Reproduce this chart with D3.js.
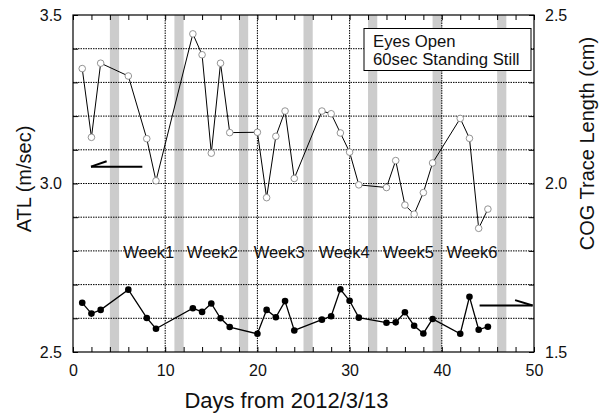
<!DOCTYPE html>
<html><head><meta charset="utf-8">
<script src="https://cdn.jsdelivr.net/npm/d3@7"></script>
<style>body{margin:0;background:#fff}svg{font-family:"Liberation Sans",Arial,sans-serif}</style>
</head><body><svg id="c" width="604" height="414"></svg>
<script>
const days = [1,2,3,6,8,9,13,14,15,16,17,20,21,22,23,24,27,28,29,30,31,34,35,36,37,38,39,42,43,44,45];
const atl = [3.341,3.137,3.357,3.319,3.133,3.008,3.444,3.382,3.090,3.357,3.151,3.152,2.958,3.140,3.215,3.015,3.215,3.207,3.150,3.093,2.996,2.988,3.068,2.936,2.909,2.973,3.061,3.193,3.134,2.867,2.924];
const cog = [1.646,1.614,1.625,1.685,1.601,1.569,1.630,1.619,1.644,1.600,1.574,1.554,1.625,1.603,1.651,1.564,1.596,1.606,1.686,1.652,1.602,1.587,1.588,1.618,1.578,1.555,1.598,1.554,1.664,1.566,1.575];
const shadedDays = [4,11,18,25,32,39,46];
const weekLabels = ["Week1","Week2","Week3","Week4","Week5","Week6"];
const weekStart = [5.45,12.35,19.6,26.65,33.6,40.5];
const xTicks = [0,10,20,30,40,50];
const leftTicks = [2.5,3.0,3.5];
const rightTicks = [1.5,2.0,2.5];
const legendLines = ["Eyes Open","60sec Standing Still"];
const xTitle = "Days from 2012/3/13", yTitle = "ATL (m/sec)", y2Title = "COG Trace Length (cm)";
// arrows in data units: [x1,y1,x2,y2] shaft, [tipX,tipY,hx,hy] barb
const leftArrow = {shaft:[1.95,3.05,7.52,3.05], barb:[1.95,3.05,3.65,3.066]};
const rightArrow = {shaft:[44.1,1.638,49.85,1.638], barb:[49.85,1.638,47.95,1.654]};

const m = {l:73,t:15,r:70,b:62}, W=604-m.l-m.r, H=414-m.t-m.b;
const svg = d3.select("#c");
const g = svg.append("g").attr("transform",`translate(${m.l},${m.t})`);
const x = d3.scaleLinear().domain([0,50]).range([0,W]);
const y = d3.scaleLinear().domain([2.5,3.5]).range([H,0]);
const y2 = d3.scaleLinear().domain([1.5,2.5]).range([H,0]);

// shaded bars
g.selectAll("rect.sh").data(shadedDays).enter().append("rect")
 .attr("x",d=>x(d)).attr("width",d=>x(d+1)-x(d)).attr("y",0).attr("height",H).attr("fill","#cccccc");

// grid
const gy = d3.range(1,10).map(i=>2.5+i*0.1);
g.selectAll("line.gy").data(gy).enter().append("line")
 .attr("x1",0).attr("x2",W).attr("y1",d=>y(d)).attr("y2",d=>y(d))
 .attr("stroke","#000").attr("stroke-width",1).attr("stroke-dasharray","1.5,1");
g.selectAll("line.gx").data([10,20,30,40]).enter().append("line")
 .attr("y1",0).attr("y2",H).attr("x1",d=>x(d)).attr("x2",d=>x(d))
 .attr("stroke","#000").attr("stroke-width",1).attr("stroke-dasharray","1.5,1");

// axes (inward ticks)
const fs = "16px";
const xb = d3.axisBottom(x).tickValues(d3.range(0,51,2)).tickSize(-5).tickFormat(d=>xTicks.includes(d)?d:"").tickPadding(13);
const xt = d3.axisTop(x).tickValues(d3.range(0,51,2)).tickSize(-5).tickFormat("");
const yl = d3.axisLeft(y).tickValues(d3.range(0,11).map(i=>2.5+i*0.1)).tickSize(-5).tickFormat(d=>leftTicks.some(t=>Math.abs(t-d)<1e-6)?d3.format(".1f")(d):"").tickPadding(11);
const yr = d3.axisRight(y2).tickValues(d3.range(0,11).map(i=>1.5+i*0.1)).tickSize(-5).tickFormat(d=>rightTicks.some(t=>Math.abs(t-d)<1e-6)?d3.format(".1f")(d):"").tickPadding(11);
function style(s){s.selectAll("text").attr("font-size",fs).attr("fill","#111").attr("font-family","Liberation Sans, Arial, sans-serif");s.select(".domain").attr("stroke","#000").attr("stroke-width",1.2);s.selectAll(".tick line").attr("stroke","#000");}
g.append("g").attr("transform",`translate(0,${H})`).call(xb).call(style);
g.append("g").call(xt).call(style);
g.append("g").call(yl).call(style);
g.append("g").attr("transform",`translate(${W},0)`).call(yr).call(style);
g.selectAll(".domain").attr("d",null);
g.append("rect").attr("x",0).attr("y",0).attr("width",W).attr("height",H).attr("fill","none").attr("stroke","#000").attr("stroke-width",1.2);

// week labels
g.selectAll("text.wk").data(weekLabels).enter().append("text")
 .attr("x",(d,i)=>x(weekStart[i])).attr("y",y(2.779)).attr("font-size","16.5px").attr("fill","#111").text(d=>d);

// series
const pts = days.map((d,i)=>({d,a:atl[i],c:cog[i]}));
g.append("path").datum(pts).attr("fill","none").attr("stroke","#000").attr("stroke-width",1)
 .attr("d",d3.line().x(p=>x(p.d)).y(p=>y(p.a)));
g.append("path").datum(pts).attr("fill","none").attr("stroke","#000").attr("stroke-width",1.3)
 .attr("d",d3.line().x(p=>x(p.d)).y(p=>y2(p.c)));
g.selectAll("circle.o").data(pts).enter().append("circle")
 .attr("cx",p=>x(p.d)).attr("cy",p=>y(p.a)).attr("r",3.3).attr("fill","#fff").attr("stroke","#888").attr("stroke-width",0.9);
g.selectAll("circle.f").data(pts).enter().append("circle")
 .attr("cx",p=>x(p.d)).attr("cy",p=>y2(p.c)).attr("r",3.3).attr("fill","#000");

// arrows
function harpoon(a,ys){
  [a.shaft,a.barb].forEach(s=>g.append("path").attr("fill","none").attr("stroke","#000").attr("stroke-width",2)
   .attr("d",`M${x(s[0])},${ys(s[1])}L${x(s[2])},${ys(s[3])}`));
}
harpoon(leftArrow,y);
harpoon(rightArrow,y2);

// legend box
const lg = svg.append("g");
lg.append("rect").attr("x",364).attr("y",28.5).attr("width",167).attr("height",42).attr("fill","#fff").attr("stroke","#000").attr("stroke-width",1);
lg.selectAll("text").data(legendLines).enter().append("text")
 .attr("x",373).attr("y",(d,i)=>46.5+i*18.5).attr("font-size","16.7px").attr("fill","#111").text(d=>d);

// titles
svg.append("text").attr("x",286.5).attr("y",408).attr("text-anchor","middle").attr("font-size","22px").attr("fill","#111").text(xTitle);
svg.append("text").attr("transform",`translate(31,179) rotate(-90)`).attr("text-anchor","middle").attr("font-size","20px").attr("fill","#111").text(yTitle);
svg.append("text").attr("transform",`translate(594,143.5) rotate(-90)`).attr("text-anchor","middle").attr("font-size","20px").attr("fill","#111").text(y2Title);
</script></body></html>
